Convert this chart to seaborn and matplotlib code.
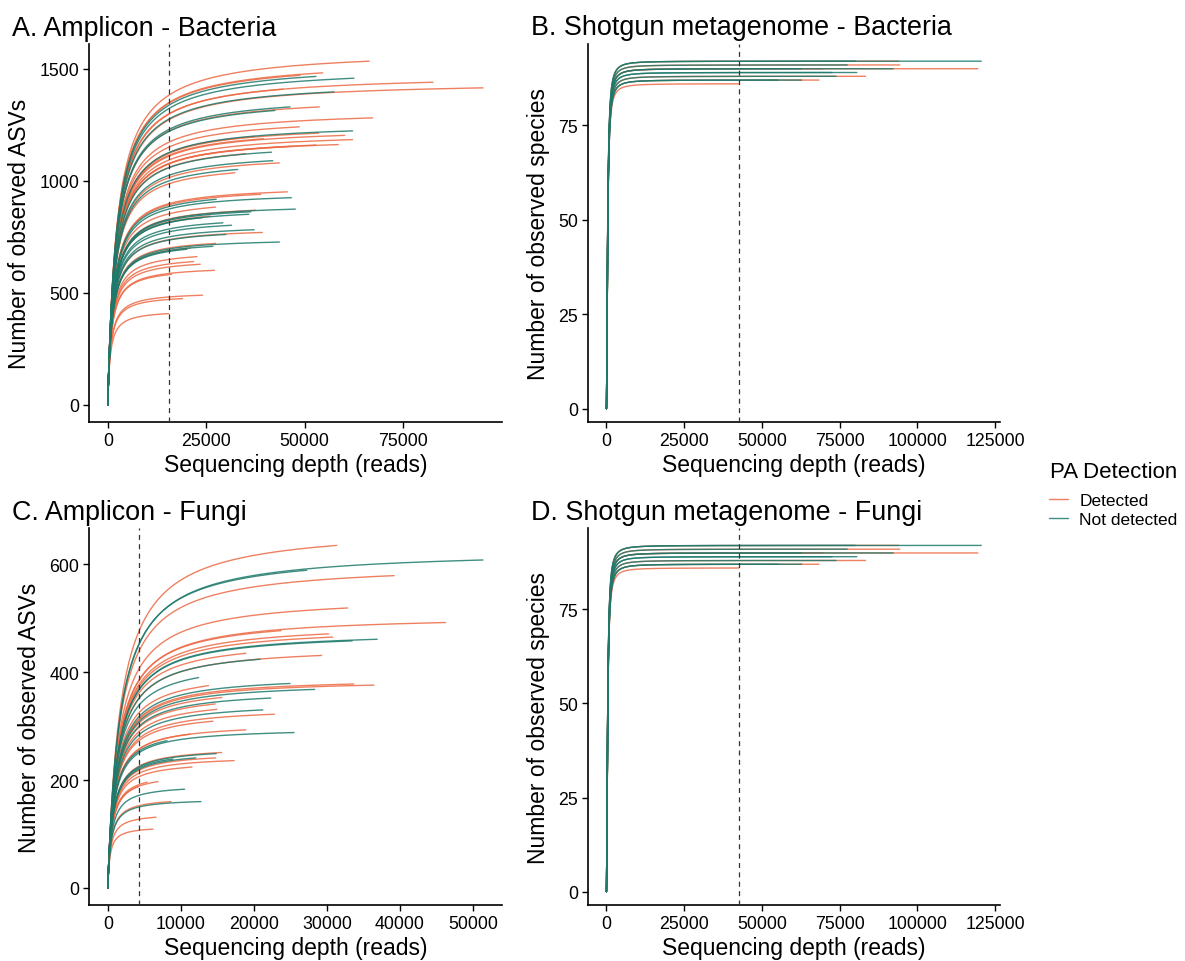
import numpy as np
import pandas as pd
import matplotlib
matplotlib.use("Agg")
import matplotlib.pyplot as plt
from matplotlib.lines import Line2D
import seaborn as sns

# ---------------------------------------------------------------------------
# Per-sample rarefaction end points: total reads, observed richness, PA group
# (D = Detected, N = Not detected)
# ---------------------------------------------------------------------------
amp_bac_depth = [66360, 54560, 48810, 52860, 62490, 82570, 44430, 95240, 57420,
                 46280, 53700, 42400, 67220, 48630, 62150, 53540, 60130, 62150,
                 58520, 52860, 46710, 37230, 39510, 41540, 41880, 43560, 32270,
                 45590, 38850, 27530, 46600, 27360, 37490, 47620, 36320, 35810,
                 26010, 29230, 31410, 37160, 39260, 43560, 27360, 26690, 20110,
                 22640, 21780, 23480, 27100, 16210, 24060, 19000, 15450,
                 33000, 24000, 30000, 21000, 35000]
amp_bac_rich = [1533, 1481, 1470, 1465, 1457, 1439, 1408, 1414, 1396,
                1329, 1329, 1313, 1280, 1240, 1222, 1212, 1202, 1183,
                1161, 1159, 1153, 1197, 1187, 1127, 1089, 1079, 1035,
                950, 939, 917, 924, 882, 868, 873, 861, 850,
                842, 812, 801, 781, 769, 726, 720, 707, 694,
                661, 639, 627, 600, 582, 489, 474, 407,
                1050, 835, 760, 700, 1120]
amp_bac_group = ["D", "D", "D", "N", "N", "D", "D", "D", "N",
                 "N", "D", "N", "D", "D", "N", "D", "D", "D",
                 "D", "D", "D", "D", "D", "N", "N", "D", "D",
                 "D", "D", "N", "N", "D", "D", "N", "N", "N",
                 "D", "N", "N", "N", "D", "N", "D", "N", "N",
                 "D", "D", "D", "D", "D", "D", "D", "D",
                 "N", "N", "N", "D", "D"]

amp_fun_depth = [31340, 51370, 27240, 39210, 32840, 46230, 23730, 30240, 30790,
                 36890, 33470, 18910, 29290, 20860, 12430, 13800, 24960, 33700,
                 36440, 28330, 22320, 14710, 15630, 21230, 22820, 14400, 25510,
                 18900, 11300, 8110, 15580, 14850, 12070, 17310, 14760, 11530,
                 8930, 6880, 4235, 10520, 8660, 12760, 6610, 6200, 14940, 5380]
amp_fun_rich = [635, 608, 589, 579, 519, 492, 477, 471, 465,
                461, 458, 435, 431, 424, 390, 375, 379, 378,
                376, 368, 352, 341, 353, 330, 322, 309, 288,
                293, 285, 273, 251, 249, 241, 236, 241, 224,
                239, 197, 188, 183, 160, 160, 131, 109, 331, 196]
amp_fun_group = ["D", "N", "N", "D", "D", "D", "D", "D", "D",
                 "N", "N", "D", "D", "N", "N", "D", "N", "D",
                 "D", "N", "N", "D", "D", "N", "D", "D", "N",
                 "D", "D", "N", "D", "N", "N", "D", "D", "D",
                 "N", "D", "D", "N", "D", "N", "D", "D", "D", "D"]

shot_depth = [120500, 94000, 80000, 94300, 77400, 119400, 92200, 69600, 62700,
              80500, 72500, 83300, 73800, 68300, 62700, 55200, 42570]
shot_rich = [92, 92, 92, 91, 91, 90, 90, 90, 90,
             89, 89, 88, 88, 87, 87, 87, 86]
shot_group = ["N", "D", "N", "D", "N", "D", "N", "D", "N",
              "N", "N", "D", "N", "D", "N", "N", "D"]

group_names = {"D": "Detected", "N": "Not detected"}
palette = {"Detected": "#EC6A45", "Not detected": "#1E7A6C"}


def rarefy(depth, richness, half_sat, hill):
    """Saturating rarefaction curve ending at (depth, richness)."""
    n = np.unique(np.concatenate([[0.0], np.geomspace(1, depth, 160),
                                  np.linspace(0, depth, 120)]))
    h = n ** hill / (half_sat ** hill + n ** hill)
    h_end = depth ** hill / (half_sat ** hill + depth ** hill)
    return n, richness * h / h_end


def curve_table(depths, richs, groups, k_scale=None, k_fixed=None, hill=1.0):
    rows = []
    for i, (d, s, g) in enumerate(zip(depths, richs, groups)):
        k = k_fixed if k_fixed is not None else k_scale * s
        n, y = rarefy(d, s, k, hill)
        rows.append(pd.DataFrame({"sample": i, "depth": n, "richness": y,
                                  "group": group_names[g]}))
    return pd.concat(rows, ignore_index=True)


panels = [
    dict(title="A. Amplicon - Bacteria", ylabel="Number of observed ASVs",
         data=curve_table(amp_bac_depth, amp_bac_rich, amp_bac_group, k_scale=1.5),
         depths=amp_bac_depth, richs=amp_bac_rich, ymin=0,
         xticks=[0, 25000, 50000, 75000], yticks=[0, 500, 1000, 1500],
         pos=(89, 45, 501.7, 423), tpos=(12, 36)),
    dict(title="B. Shotgun metagenome - Bacteria", ylabel="Number of observed species",
         data=curve_table(shot_depth, shot_rich, shot_group, k_fixed=380, hill=1.7),
         depths=shot_depth, richs=shot_rich, ymin=1,
         xticks=[0, 25000, 50000, 75000, 100000, 125000], yticks=[0, 25, 50, 75],
         pos=(587.7, 45, 1000, 423), tpos=(531, 35)),
    dict(title="C. Amplicon - Fungi", ylabel="Number of observed ASVs",
         data=curve_table(amp_fun_depth, amp_fun_rich, amp_fun_group, k_scale=2.75),
         depths=amp_fun_depth, richs=amp_fun_rich, ymin=0,
         xticks=[0, 10000, 20000, 30000, 40000, 50000], yticks=[0, 200, 400, 600],
         pos=(89, 529.3, 501.7, 906), tpos=(12, 520)),
    dict(title="D. Shotgun metagenome - Fungi", ylabel="Number of observed species",
         data=curve_table(shot_depth, shot_rich, shot_group, k_fixed=380, hill=1.7),
         depths=shot_depth, richs=shot_rich, ymin=1,
         xticks=[0, 25000, 50000, 75000, 100000, 125000], yticks=[0, 25, 50, 75],
         pos=(587.7, 529.3, 1000, 906), tpos=(531, 520)),
]

sns.set_theme(style="ticks")
plt.rcParams["font.family"] = ["Liberation Sans", "DejaVu Sans"]
plt.rcParams["text.color"] = "black"
plt.rcParams["axes.labelcolor"] = "black"

W, H = 1185, 962
fig = plt.figure(figsize=(W / 100, H / 100), dpi=100)

for p in panels:
    x0, y0, x1, y1 = p["pos"]
    ax = fig.add_axes([x0 / W, 1 - y1 / H, (x1 - x0) / W, (y1 - y0) / H])
    sns.lineplot(data=p["data"], x="depth", y="richness", hue="group",
                 hue_order=["Detected", "Not detected"], units="sample",
                 estimator=None, sort=False, palette=palette, linewidth=1.0,
                 alpha=0.85, legend=False, ax=ax)
    # rarefaction depth = smallest library
    ax.axvline(min(p["depths"]), color="#333333", linewidth=0.9,
               linestyle=(0, (4, 3.5)), zorder=5)

    xmax = max(p["depths"])
    ax.set_xlim(-0.05 * xmax, 1.05 * xmax)
    ymax = max(p["richs"])
    lo = p["ymin"]
    yr = ymax - lo
    ax.set_ylim(lo - 0.05 * yr, ymax + 0.05 * yr)
    ax.set_xticks(p["xticks"])
    ax.set_yticks(p["yticks"])
    ax.set_xticklabels([str(t) for t in p["xticks"]])
    ax.set_yticklabels([str(t) for t in p["yticks"]])
    ax.set_xlabel("Sequencing depth (reads)", fontsize=16.5, color="black", labelpad=3)
    ax.set_ylabel(p["ylabel"], fontsize=16.5, color="black", labelpad=6)
    ax.tick_params(axis="both", labelsize=12.8, colors="black", length=4,
                   width=1.0, direction="out", pad=3)
    sns.despine(ax=ax)
    for s in ("left", "bottom"):
        ax.spines[s].set_linewidth(1.2)
        ax.spines[s].set_color("black")
    fig.text(p["tpos"][0] / W, 1 - p["tpos"][1] / H, p["title"], fontsize=19.4,
             ha="left", va="baseline", color="black")

# legend: title and keys
fig.text(1050 / W, 1 - 478 / H, "PA Detection", fontsize=16, ha="left",
         va="baseline", color="black")
handles = [Line2D([], [], color=palette[g], lw=1.0, alpha=0.85)
           for g in ["Detected", "Not detected"]]
fig.legend(handles, ["Detected", "Not detected"],
           loc="upper left", bbox_to_anchor=(1049 / W, 1 - 494 / H),
           frameon=False, fontsize=12.5, handlelength=1.1,
           handletextpad=0.65, labelspacing=0.22, alignment="left",
           borderaxespad=0, borderpad=0, labelcolor="black")

fig.savefig("out.png", dpi=100)
